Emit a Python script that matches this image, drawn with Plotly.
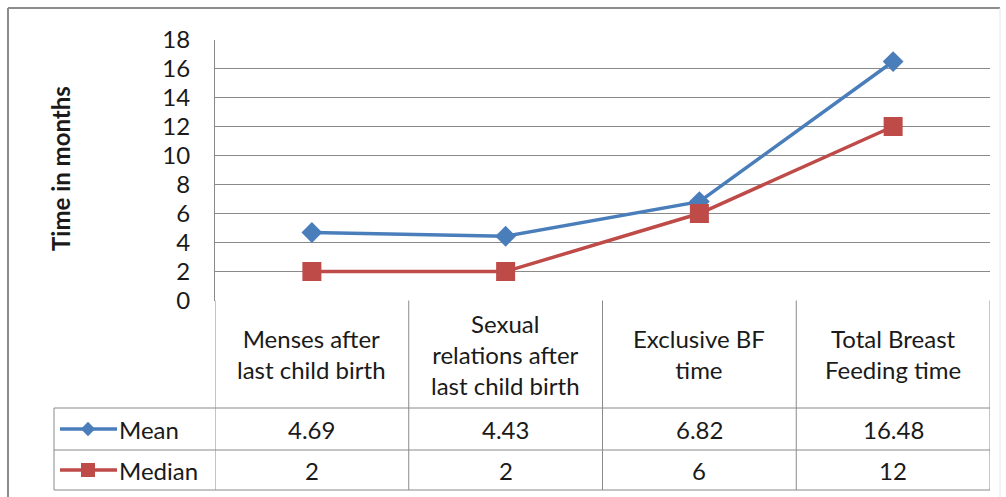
import plotly.graph_objects as go

# Chart data
categories = [
    "Menses after<br>last child birth",
    "Sexual<br>relations after<br>last child birth",
    "Exclusive BF<br>time",
    "Total Breast<br>Feeding time",
]
series_names = ["Mean", "Median"]
mean_values = [4.69, 4.43, 6.82, 16.48]
median_values = [2, 2, 6, 12]
y_ticks = [0, 2, 4, 6, 8, 10, 12, 14, 16, 18]

W, H = 1006, 497
FONT = "Lato"
TEXT = "#1a1a1a"
GRID = "#8a8a8a"
BLUE = "#4A7EBB"
RED = "#BE4B48"
FS = 24


def py(y):
    """pixel row -> paper fraction"""
    return 1 - y / H


def px(x):
    return x / W


# layout geometry (pixels)
PLOT_L, PLOT_R = 215, 990
PLOT_T, PLOT_B = 39.5, 300.5
ROW_HEAD_B, ROW_MEAN_B, ROW_MED_B = 408, 450, 490
LEG_L = 54

x_idx = list(range(len(categories)))

fig = go.Figure()
fig.add_trace(go.Scatter(
    x=x_idx, y=mean_values, mode="lines+markers", name=series_names[0],
    line=dict(color=BLUE, width=3.5),
    marker=dict(symbol="diamond", size=16, color=BLUE),
    showlegend=False, cliponaxis=False,
))
fig.add_trace(go.Scatter(
    x=x_idx, y=median_values, mode="lines+markers", name=series_names[1],
    line=dict(color=RED, width=3.5),
    marker=dict(symbol="square", size=19, color=RED),
    showlegend=False, cliponaxis=False,
))

# legend glyphs inside the data table, drawn on a full-page pixel axis
glyph_rows = [((ROW_HEAD_B + ROW_MEAN_B) / 2, BLUE, "diamond", 11),
              ((ROW_MEAN_B + ROW_MED_B) / 2, RED, "square", 14)]
for yc, col, sym, sz in glyph_rows:
    fig.add_trace(go.Scatter(
        x=[60, 117], y=[yc, yc], xaxis="x2", yaxis="y2",
        mode="lines", line=dict(color=col, width=3.5),
        showlegend=False, hoverinfo="skip",
    ))
    fig.add_trace(go.Scatter(
        x=[88], y=[yc], xaxis="x2", yaxis="y2",
        mode="markers", marker=dict(symbol=sym, size=sz, color=col),
        showlegend=False, hoverinfo="skip",
    ))

shapes = []
line_style = dict(color=GRID, width=1)

# outer frame
shapes.append(dict(type="line", xref="paper", yref="paper",
                   x0=px(8), x1=px(1000), y0=py(8), y1=py(8),
                   line=dict(color="#8c8c8c", width=2)))
shapes.append(dict(type="line", xref="paper", yref="paper",
                   x0=px(8), x1=px(8), y0=py(8), y1=py(497),
                   line=dict(color="#8c8c8c", width=2)))
shapes.append(dict(type="line", xref="paper", yref="paper",
                   x0=px(1000), x1=px(1000), y0=py(8), y1=py(497),
                   line=dict(color="#e6e6e6", width=1)))

# data table: column separators at category boundaries
n = len(categories)
for i in range(n + 1):
    shapes.append(dict(type="line", xref="x", yref="paper",
                       x0=i - 0.5, x1=i - 0.5, y0=py(PLOT_B), y1=py(ROW_MED_B),
                       line=line_style))
# legend column left edge
shapes.append(dict(type="line", xref="paper", yref="paper",
                   x0=px(LEG_L), x1=px(LEG_L), y0=py(ROW_HEAD_B), y1=py(ROW_MED_B),
                   line=line_style))
# row separators
for yy in (ROW_HEAD_B, ROW_MEAN_B, ROW_MED_B):
    shapes.append(dict(type="line", xref="paper", yref="paper",
                       x0=px(LEG_L), x1=px(PLOT_R), y0=py(yy), y1=py(yy),
                       line=line_style))

annotations = []
# y-axis title
annotations.append(dict(
    text="<b>Time in months</b>", xref="paper", yref="paper",
    x=px(60), y=py(169), xanchor="center", yanchor="middle",
    textangle=-90, showarrow=False,
    font=dict(family=FONT, size=24, color=TEXT),
))
# header row with category names
for i, cat in enumerate(categories):
    annotations.append(dict(
        text=cat, xref="x", yref="paper", x=i, y=py((PLOT_B + ROW_HEAD_B) / 2),
        xanchor="center", yanchor="middle",
        showarrow=False, align="center",
        font=dict(family=FONT, size=FS, color=TEXT),
    ))
# value rows
for row_vals, y0, y1 in ((mean_values, ROW_HEAD_B, ROW_MEAN_B),
                         (median_values, ROW_MEAN_B, ROW_MED_B)):
    for i, v in enumerate(row_vals):
        annotations.append(dict(
            text=f"{v:g}", xref="x", yref="paper", x=i, y=py((y0 + y1) / 2),
            xanchor="center", yanchor="middle",
            showarrow=False, font=dict(family=FONT, size=FS, color=TEXT),
        ))
# row labels
for name, y0, y1 in ((series_names[0], ROW_HEAD_B, ROW_MEAN_B),
                     (series_names[1], ROW_MEAN_B, ROW_MED_B)):
    annotations.append(dict(
        text=name, xref="paper", yref="paper", x=px(117), xanchor="left",
        y=py((y0 + y1) / 2), yanchor="middle", showarrow=False,
        font=dict(family=FONT, size=FS, color=TEXT),
    ))

fig.update_layout(
    width=W, height=H,
    margin=dict(l=0, r=0, t=0, b=0, autoexpand=False),
    paper_bgcolor="white", plot_bgcolor="rgba(0,0,0,0)",
    xaxis=dict(
        domain=[px(PLOT_L), px(PLOT_R)], range=[-0.5, n - 0.5],
        showticklabels=False, showgrid=False, zeroline=False,
        showline=False, fixedrange=True, anchor="y",
    ),
    yaxis=dict(
        domain=[py(PLOT_B), py(PLOT_T)], range=[0, 18],
        tickvals=y_ticks, ticks="", ticklabelstandoff=19,
        tickfont=dict(family=FONT, size=FS, color=TEXT),
        showgrid=True, gridcolor=GRID, gridwidth=1,
        zeroline=False, showline=True, linecolor=GRID, linewidth=1,
        fixedrange=True, anchor="x",
    ),
    xaxis2=dict(domain=[0, 1], range=[0, W], visible=False,
                fixedrange=True, anchor="y2"),
    yaxis2=dict(domain=[0, 1], range=[H, 0], visible=False,
                fixedrange=True, anchor="x2"),
    shapes=shapes,
    annotations=annotations,
    font=dict(family=FONT, color=TEXT),
)

fig.write_html("out.html", config=dict(displayModeBar=False))
